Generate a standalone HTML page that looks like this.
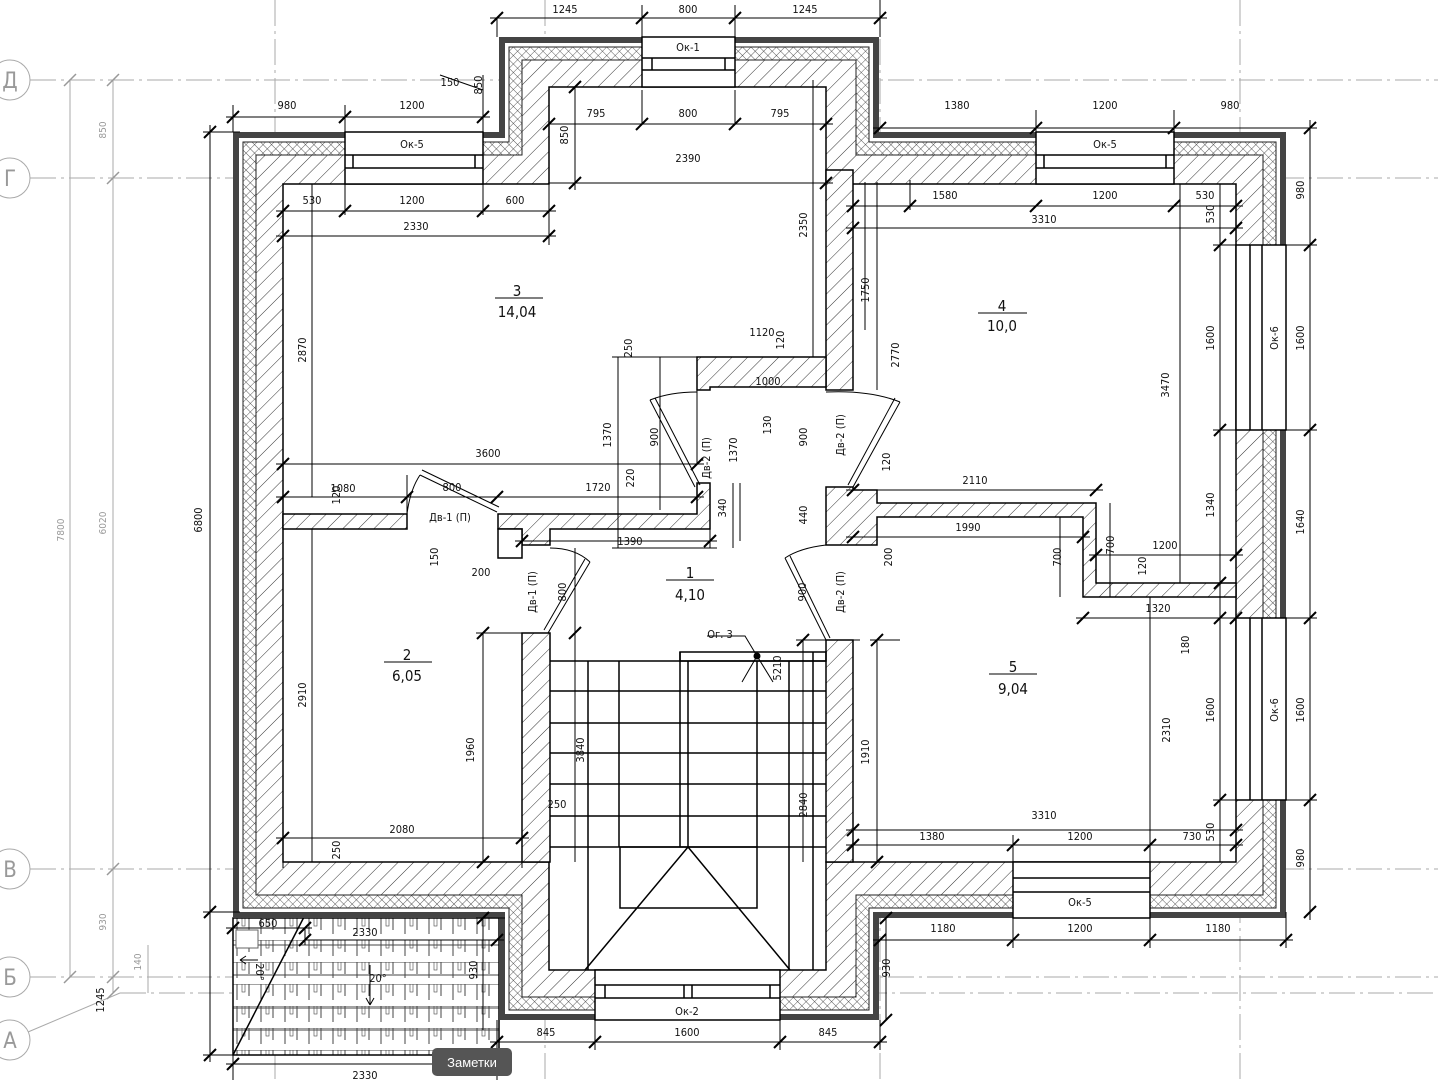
<!DOCTYPE html>
<html><head><meta charset="utf-8"><style>
html,body{margin:0;padding:0;background:#fff}
svg{display:block}
text{font-family:"DejaVu Sans Condensed","Liberation Sans",sans-serif;font-size:11px;fill:#111}
text.big{font-size:15px}
text.bub{font-size:22px;fill:#999}
text.gs{font-size:10px;fill:#999}
</style></head><body>
<svg width="1438" height="1080" viewBox="0 0 1438 1080" xmlns="http://www.w3.org/2000/svg">
<defs>
<pattern id="h" width="11" height="11" patternUnits="userSpaceOnUse" patternTransform="rotate(45)"><rect width="11" height="11" fill="#fff"/><line x1="0" y1="0" x2="0" y2="11" stroke="#333" stroke-width="1"/></pattern>
<pattern id="x" width="6" height="6" patternUnits="userSpaceOnUse" patternTransform="rotate(45)"><rect width="6" height="6" fill="#fff"/><line x1="0" y1="0" x2="0" y2="6" stroke="#333" stroke-width="0.8"/><line x1="0" y1="0" x2="6" y2="0" stroke="#333" stroke-width="0.8"/></pattern>
<pattern id="tile" width="24" height="22" patternUnits="userSpaceOnUse" x="233" y="918"><rect width="24" height="22" fill="#fff"/><line x1="0" y1="0" x2="24" y2="0" stroke="#444"/><line x1="4" y1="0" x2="4" y2="16" stroke="#444"/><line x1="16" y1="0" x2="16" y2="12" stroke="#444"/><rect x="9" y="0" width="3" height="8" fill="none" stroke="#444" stroke-width=".6"/></pattern>
<path id="t" d="M-6,6 L6,-6" stroke="#000" stroke-width="2"/>
</defs>

<g stroke="#aaa" stroke-width="1" fill="none" stroke-dasharray="26,5,3,5">
<line x1="30" y1="80" x2="1438" y2="80"/>
<line x1="30" y1="178" x2="1438" y2="178"/>
<line x1="30" y1="869" x2="1438" y2="869"/>
<line x1="30" y1="977" x2="1438" y2="977"/>
<line x1="120" y1="993" x2="1438" y2="993"/>
<line x1="275" y1="0" x2="275" y2="1080"/>
<line x1="545" y1="0" x2="545" y2="1080"/>
<line x1="832" y1="380" x2="832" y2="660"/>
<line x1="880" y1="0" x2="880" y2="1080"/>
<line x1="1240" y1="0" x2="1240" y2="1080"/>
</g>
<g stroke="#aaa" fill="#fff">
<circle cx="10" cy="80" r="20"/><circle cx="10" cy="178" r="20"/><circle cx="10" cy="869" r="20"/><circle cx="10" cy="977" r="20"/><circle cx="10" cy="1040" r="20"/>
<line x1="28" y1="1032" x2="120" y2="993"/>
<line x1="70" y1="80" x2="70" y2="977"/><line x1="113" y1="80" x2="113" y2="993"/>
<line x1="148" y1="945" x2="148" y2="993"/>
</g>
<g text-anchor="middle">
<text class="bub" x="10" y="88">Д</text>
<text class="bub" x="10" y="186">Г</text>
<text class="bub" x="10" y="877">В</text>
<text class="bub" x="10" y="985">Б</text>
<text class="bub" x="10" y="1048">А</text>
<text class="gs" transform="translate(106,130) rotate(-90)">850</text>
<text class="gs" transform="translate(106,523) rotate(-90)">6020</text>
<text class="gs" transform="translate(64,530) rotate(-90)">7800</text>
<text class="gs" transform="translate(106,922) rotate(-90)">930</text>
<text class="gs" transform="translate(141,962) rotate(-90)">140</text>
</g>
<g stroke="#999" stroke-width="1.5"><path d="M64,86 L76,74 M107,86 L119,74 M107,184 L119,172 M64,983 L76,971 M107,875 L119,863 M107,983 L119,971 M107,999 L119,987"/></g>

<rect x="233" y="918" width="266" height="137" fill="url(#tile)"/>
<g stroke="#444" stroke-width="1"><line x1="233" y1="945" x2="499" y2="945"/><line x1="233" y1="975" x2="499" y2="975"/><line x1="233" y1="1008" x2="499" y2="1008"/><line x1="233" y1="1030" x2="499" y2="1030"/></g>
<rect x="233" y="918" width="266" height="137" fill="none" stroke="#000" stroke-width="1.5"/>
<line x1="305" y1="915" x2="233" y2="1055" stroke="#000" stroke-width="1.5"/>
<rect x="236" y="930" width="22" height="18" fill="#fff" stroke="#666"/>

<path d="M233,132 L499,132 L499,37 L879,37 L879,132 L1286,132 L1286,918 L879,918 L879,1020 L499,1020 L499,918 L233,918Z" fill="#444"/>
<path d="M239,138 L505,138 L505,43 L873,43 L873,138 L1280,138 L1280,912 L873,912 L873,1014 L505,1014 L505,912 L239,912Z" fill="#fff"/>
<path d="M243,142 L509,142 L509,47 L869,47 L869,142 L1276,142 L1276,908 L869,908 L869,1010 L509,1010 L509,908 L243,908Z" fill="url(#x)" stroke="#222"/>
<path d="M256,155 L522,155 L522,60 L856,60 L856,155 L1263,155 L1263,895 L856,895 L856,997 L522,997 L522,895 L256,895Z" fill="url(#h)" stroke="#222"/>
<path d="M283,184 L549,184 L549,87 L826,87 L826,184 L1236,184 L1236,862 L826,862 L826,970 L549,970 L549,862 L283,862Z" fill="#fff" stroke="#000" stroke-width="1.5"/>

<g fill="url(#h)" stroke="#000" stroke-width="1.5">
<rect x="826" y="170" width="27" height="220"/>
<path d="M697,357 L826,357 L826,387 L710,387 L710,390 L697,390Z"/>
<rect x="283" y="514" width="124" height="15"/>
<path d="M498,514 L697,514 L697,483 L710,483 L710,529 L550,529 L550,545 L522,545 L522,529 L498,529Z"/>
<rect x="522" y="633" width="28" height="229"/>
<rect x="826" y="640" width="27" height="222"/>
<path d="M826,487 L853,487 L853,490 L877,490 L877,503 L1096,503 L1096,583 L1236,583 L1236,597 L1083,597 L1083,517 L877,517 L877,545 L826,545Z"/>
</g>
<rect x="498" y="529" width="24" height="29" fill="#fff" stroke="#000" stroke-width="1.5"/>

<g fill="#fff" stroke="#000" stroke-width="1.5">
<rect x="642" y="37" width="93" height="50"/><line x1="642" y1="58" x2="735" y2="58"/><line x1="642" y1="70" x2="735" y2="70"/><line x1="652" y1="58" x2="652" y2="70"/><line x1="725" y1="58" x2="725" y2="70"/>
<rect x="345" y="132" width="138" height="52"/><line x1="345" y1="155" x2="483" y2="155"/><line x1="345" y1="168" x2="483" y2="168"/><line x1="353" y1="155" x2="353" y2="168"/><line x1="475" y1="155" x2="475" y2="168"/>
<rect x="1036" y="132" width="138" height="52"/><line x1="1036" y1="155" x2="1174" y2="155"/><line x1="1036" y1="168" x2="1174" y2="168"/><line x1="1044" y1="155" x2="1044" y2="168"/><line x1="1166" y1="155" x2="1166" y2="168"/>
<rect x="1236" y="245" width="50" height="185"/><line x1="1250" y1="245" x2="1250" y2="430"/><line x1="1262" y1="245" x2="1262" y2="430"/>
<rect x="1236" y="618" width="50" height="182"/><line x1="1250" y1="618" x2="1250" y2="800"/><line x1="1262" y1="618" x2="1262" y2="800"/>
<rect x="1013" y="862" width="137" height="56"/><line x1="1013" y1="878" x2="1150" y2="878"/><line x1="1013" y1="892" x2="1150" y2="892"/>
<rect x="595" y="970" width="185" height="50"/><line x1="595" y1="985" x2="780" y2="985"/><line x1="595" y1="998" x2="780" y2="998"/><line x1="605" y1="985" x2="605" y2="998"/><line x1="770" y1="985" x2="770" y2="998"/><line x1="684" y1="985" x2="684" y2="998"/><line x1="692" y1="985" x2="692" y2="998"/>
</g>

<g stroke="#000" stroke-width="1.5" fill="none">
<path d="M550,661 H826 M550,691 H826 M550,723 H826 M550,753 H826 M550,784 H826 M550,816 H826 M550,847 H826"/>
<path d="M588,661 V970 M619,661 V847 M757,661 V847 M789,661 V970 M813,652 V970"/>
<rect x="680" y="652" width="146" height="9"/>
<path d="M680,652 V847 M688,661 V847"/>
<rect x="620" y="847" width="137" height="61"/>
<path d="M688,847 L585,970 M688,847 L790,970"/>
</g>

<g stroke="#000" stroke-width="1" fill="none">
<path d="M697,392 Q670,392 650,400"/><path d="M650,400 L695,487 M655,398 L700,485"/>
<path d="M826,392 Q870,390 900,402"/><path d="M900,402 L853,487 M895,398 L848,485"/>
<path d="M407,514 Q410,490 420,475"/><path d="M420,475 L497,512 M422,470 L499,507"/>
<path d="M550,548 Q575,548 590,562"/><path d="M590,562 L548,633 M585,559 L544,630"/>
<path d="M826,545 Q800,548 785,558"/><path d="M785,558 L826,640 M790,556 L830,638"/>
</g>

<g stroke="#000" stroke-width="1" fill="none">
<path d="M490,18 H887 M497,18 V37 M642,5 V37 M735,5 V37 M880,0 V37"/>
<path d="M226,117 H490 M233,105 V132 M345,105 V175 M483,75 V175 M440,75 L483,90"/>
<path d="M549,124 H833 M642,90 V124 M735,90 V124"/>
<path d="M549,183 H833 M575,87 V190"/>
<path d="M276,211 H556 M345,175 V215 M483,175 V215"/>
<path d="M276,236 H556 M549,124 V245"/>
<path d="M813,80 V357"/>
<path d="M873,128 H1317 M1036,110 V175 M1174,110 V175 M1310,120 V920"/>
<path d="M846,206 H1243 M910,180 V210"/>
<path d="M846,228 H1243 M853,184 V240"/>
<path d="M1220,184 V862 M1213,245 H1317 M1213,430 H1317 M1213,618 H1317 M1213,800 H1317"/>
<path d="M1180,184 V583 M1150,597 V862"/>
<path d="M877,182 V390 M865,182 V330"/>
<path d="M210,125 V1062 M203,132 H240 M203,912 H240 M203,1055 H240"/>
<path d="M312,184 V497 M312,529 V862"/>
<path d="M276,464 H704 M697,357 V464"/>
<path d="M276,497 H704 M407,475 V514"/>
<path d="M515,541 H717 M710,529 V548"/>
<path d="M618,357 V548 M660,357 V510 M612,357 H700 M612,548 H717"/>
<path d="M740,483 V541 M733,483 V548"/>
<path d="M846,490 H1103 M846,537 H1090"/>
<path d="M1089,555 H1243 M1076,618 H1243 M1060,517 V597 M1110,503 V597"/>
<path d="M483,633 V862 M476,633 H550"/>
<path d="M575,548 V862"/>
<path d="M803,640 V862 M796,640 H860"/>
<path d="M877,640 V862 M870,640 H900"/>
<path d="M846,830 H1243 M846,845 H1243 M1013,835 V878 M1150,835 V878"/>
<path d="M276,838 H529 M283,830 V868 M522,820 V868"/>
<path d="M873,940 H1293 M1013,912 V948 M1150,912 V948 M1286,912 V948"/>
<path d="M490,1042 H887 M497,1020 V1050 M595,1020 V1050 M780,1020 V1050 M880,1020 V1050"/>
<path d="M226,1064 H504 M233,1055 V1080 M497,1020 V1080"/>
<path d="M226,928 H312 M305,928 V945 M305,940 H504"/>
<path d="M483,918 V1030 M476,918 H505"/>
<path d="M886,918 V1020"/>
<path d="M495,298 H543 M978,313 H1027 M384,662 H432 M666,580 H714 M989,674 H1037"/>
<path d="M707,636 H745 L757,656 M757,656 L742,682 M757,656 L773,682"/>
</g>
<circle cx="757" cy="656" r="3.5" fill="#000"/>
<g>
<use href="#t" x="497" y="18"/><use href="#t" x="642" y="18"/><use href="#t" x="735" y="18"/><use href="#t" x="880" y="18"/>
<use href="#t" x="233" y="117"/><use href="#t" x="345" y="117"/><use href="#t" x="483" y="117"/>
<use href="#t" x="549" y="124"/><use href="#t" x="642" y="124"/><use href="#t" x="735" y="124"/><use href="#t" x="826" y="124"/>
<use href="#t" x="575" y="87"/><use href="#t" x="575" y="183"/><use href="#t" x="826" y="183"/>
<use href="#t" x="283" y="211"/><use href="#t" x="345" y="211"/><use href="#t" x="483" y="211"/><use href="#t" x="549" y="211"/>
<use href="#t" x="283" y="236"/><use href="#t" x="549" y="236"/>
<use href="#t" x="880" y="128"/><use href="#t" x="1036" y="128"/><use href="#t" x="1174" y="128"/><use href="#t" x="1310" y="128"/>
<use href="#t" x="853" y="206"/><use href="#t" x="910" y="206"/><use href="#t" x="1036" y="206"/><use href="#t" x="1174" y="206"/><use href="#t" x="1236" y="206"/>
<use href="#t" x="853" y="228"/><use href="#t" x="1236" y="228"/>
<use href="#t" x="1310" y="245"/><use href="#t" x="1310" y="430"/><use href="#t" x="1310" y="618"/><use href="#t" x="1310" y="800"/><use href="#t" x="1310" y="912"/>
<use href="#t" x="1220" y="245"/><use href="#t" x="1220" y="430"/><use href="#t" x="1220" y="583"/><use href="#t" x="1220" y="618"/><use href="#t" x="1220" y="800"/>
<use href="#t" x="210" y="132"/><use href="#t" x="210" y="912"/><use href="#t" x="210" y="1055"/>
<use href="#t" x="283" y="464"/><use href="#t" x="697" y="464"/>
<use href="#t" x="283" y="497"/><use href="#t" x="407" y="497"/><use href="#t" x="497" y="497"/><use href="#t" x="697" y="497"/>
<use href="#t" x="522" y="541"/><use href="#t" x="710" y="541"/>
<use href="#t" x="853" y="490"/><use href="#t" x="1096" y="490"/><use href="#t" x="853" y="537"/><use href="#t" x="1083" y="537"/>
<use href="#t" x="1096" y="555"/><use href="#t" x="1236" y="555"/><use href="#t" x="1083" y="618"/><use href="#t" x="1236" y="618"/>
<use href="#t" x="483" y="633"/><use href="#t" x="483" y="862"/><use href="#t" x="575" y="633"/>
<use href="#t" x="877" y="640"/><use href="#t" x="877" y="862"/><use href="#t" x="803" y="640"/>
<use href="#t" x="853" y="830"/><use href="#t" x="1236" y="830"/><use href="#t" x="853" y="845"/><use href="#t" x="1013" y="845"/><use href="#t" x="1150" y="845"/><use href="#t" x="1236" y="845"/>
<use href="#t" x="283" y="838"/><use href="#t" x="522" y="838"/>
<use href="#t" x="880" y="940"/><use href="#t" x="1013" y="940"/><use href="#t" x="1150" y="940"/><use href="#t" x="1286" y="940"/>
<use href="#t" x="497" y="1042"/><use href="#t" x="595" y="1042"/><use href="#t" x="780" y="1042"/><use href="#t" x="880" y="1042"/>
<use href="#t" x="233" y="1064"/><use href="#t" x="497" y="1064"/>
<use href="#t" x="233" y="928"/><use href="#t" x="305" y="928"/><use href="#t" x="305" y="940"/><use href="#t" x="497" y="940"/>
<use href="#t" x="483" y="918"/><use href="#t" x="886" y="918"/><use href="#t" x="886" y="1020"/>
</g>

<g text-anchor="middle">
<text x="565" y="13">1245</text><text x="688" y="13">800</text><text x="805" y="13">1245</text>
<text x="688" y="51">Ок-1</text>
<text x="450" y="86">150</text>
<text x="287" y="109">980</text><text x="412" y="109">1200</text>
<text x="412" y="148">Ок-5</text>
<text x="596" y="117">795</text><text x="688" y="117">800</text><text x="780" y="117">795</text>
<text x="688" y="162">2390</text>
<text x="312" y="204">530</text><text x="412" y="204">1200</text><text x="515" y="204">600</text>
<text x="416" y="230">2330</text>
<text x="957" y="109">1380</text><text x="1105" y="109">1200</text><text x="1230" y="109">980</text>
<text x="1105" y="148">Ок-5</text>
<text x="945" y="199">1580</text><text x="1105" y="199">1200</text><text x="1205" y="199">530</text>
<text x="1044" y="223">3310</text>
<text x="762" y="336">1120</text><text x="768" y="385">1000</text>
<text x="488" y="457">3600</text>
<text x="343" y="492">1080</text><text x="452" y="491">800</text><text x="598" y="491">1720</text>
<text x="975" y="484">2110</text><text x="968" y="531">1990</text>
<text x="450" y="521">Дв-1 (П)</text>
<text x="630" y="545">1390</text>
<text x="481" y="576">200</text>
<text x="1165" y="549">1200</text><text x="1158" y="612">1320</text>
<text x="720" y="638">Ог. 3</text>
<text x="557" y="808">250</text>
<text x="1044" y="819">3310</text>
<text x="402" y="833">2080</text>
<text x="932" y="840">1380</text><text x="1080" y="840">1200</text><text x="1192" y="840">730</text>
<text x="1080" y="906">Ок-5</text>
<text x="943" y="932">1180</text><text x="1080" y="932">1200</text><text x="1218" y="932">1180</text>
<text x="268" y="927">650</text><text x="365" y="936">2330</text>
<text x="378" y="982">20°</text>
<text x="687" y="1015">Ок-2</text>
<text x="546" y="1036">845</text><text x="687" y="1036">1600</text><text x="828" y="1036">845</text>
<text x="365" y="1079">2330</text>
<text class="big" x="517" y="296">3</text><text class="big" x="517" y="317">14,04</text>
<text class="big" x="1002" y="311">4</text><text class="big" x="1002" y="331">10,0</text>
<text class="big" x="690" y="578">1</text><text class="big" x="690" y="600">4,10</text>
<text class="big" x="407" y="660">2</text><text class="big" x="407" y="681">6,05</text>
<text class="big" x="1013" y="672">5</text><text class="big" x="1013" y="694">9,04</text>
</g>
<path d="M258,960 H240 M240,960 l6,-4 M240,960 l6,4 M370,965 V1005 M370,1005 l-4,-7 M370,1005 l4,-7" stroke="#000" fill="none"/>

<g text-anchor="middle">
<text transform="translate(482,85) rotate(-90)">850</text>
<text transform="translate(568,135) rotate(-90)">850</text>
<text transform="translate(807,225) rotate(-90)">2350</text>
<text transform="translate(1304,190) rotate(-90)">980</text>
<text transform="translate(1214,214) rotate(-90)">530</text>
<text transform="translate(869,290) rotate(-90)">1750</text>
<text transform="translate(899,355) rotate(-90)">2770</text>
<text transform="translate(306,350) rotate(-90)">2870</text>
<text transform="translate(1214,338) rotate(-90)">1600</text>
<text transform="translate(1278,338) rotate(-90)">Ок-6</text>
<text transform="translate(1304,338) rotate(-90)">1600</text>
<text transform="translate(1169,385) rotate(-90)">3470</text>
<text transform="translate(784,340) rotate(-90)">120</text>
<text transform="translate(632,348) rotate(-90)">250</text>
<text transform="translate(771,425) rotate(-90)">130</text>
<text transform="translate(611,435) rotate(-90)">1370</text>
<text transform="translate(658,437) rotate(-90)">900</text>
<text transform="translate(710,458) rotate(-90)">Дв-2 (П)</text>
<text transform="translate(737,450) rotate(-90)">1370</text>
<text transform="translate(807,437) rotate(-90)">900</text>
<text transform="translate(844,435) rotate(-90)">Дв-2 (П)</text>
<text transform="translate(890,462) rotate(-90)">120</text>
<text transform="translate(340,495) rotate(-90)">120</text>
<text transform="translate(634,478) rotate(-90)">220</text>
<text transform="translate(726,508) rotate(-90)">340</text>
<text transform="translate(807,515) rotate(-90)">440</text>
<text transform="translate(1214,505) rotate(-90)">1340</text>
<text transform="translate(1304,522) rotate(-90)">1640</text>
<text transform="translate(892,557) rotate(-90)">200</text>
<text transform="translate(438,557) rotate(-90)">150</text>
<text transform="translate(536,592) rotate(-90)">Дв-1 (П)</text>
<text transform="translate(566,592) rotate(-90)">800</text>
<text transform="translate(1061,557) rotate(-90)">700</text>
<text transform="translate(1114,545) rotate(-90)">700</text>
<text transform="translate(1146,566) rotate(-90)">120</text>
<text transform="translate(1189,645) rotate(-90)">180</text>
<text transform="translate(806,592) rotate(-90)">900</text>
<text transform="translate(844,592) rotate(-90)">Дв-2 (П)</text>
<text transform="translate(781,668) rotate(-90)">5210</text>
<text transform="translate(202,520) rotate(-90)">6800</text>
<text transform="translate(306,695) rotate(-90)">2910</text>
<text transform="translate(474,750) rotate(-90)">1960</text>
<text transform="translate(584,750) rotate(-90)">3840</text>
<text transform="translate(869,752) rotate(-90)">1910</text>
<text transform="translate(807,805) rotate(-90)">2840</text>
<text transform="translate(1170,730) rotate(-90)">2310</text>
<text transform="translate(1214,710) rotate(-90)">1600</text>
<text transform="translate(1278,710) rotate(-90)">Ок-6</text>
<text transform="translate(1304,710) rotate(-90)">1600</text>
<text transform="translate(1214,832) rotate(-90)">530</text>
<text transform="translate(340,850) rotate(-90)">250</text>
<text transform="translate(1304,858) rotate(-90)">980</text>
<text transform="translate(477,970) rotate(-90)">930</text>
<text transform="translate(890,968) rotate(-90)">930</text>
<text transform="translate(104,1000) rotate(-90)">1245</text>
<text transform="translate(256,972) rotate(90)">20°</text>
</g>

<rect x="432" y="1048" width="80" height="28" rx="5" fill="#555"/>
<text x="472" y="1067" text-anchor="middle" style="fill:#fff;font-size:13px;font-family:'Liberation Sans','DejaVu Sans',sans-serif">Заметки</text>
</svg>
</body></html>
